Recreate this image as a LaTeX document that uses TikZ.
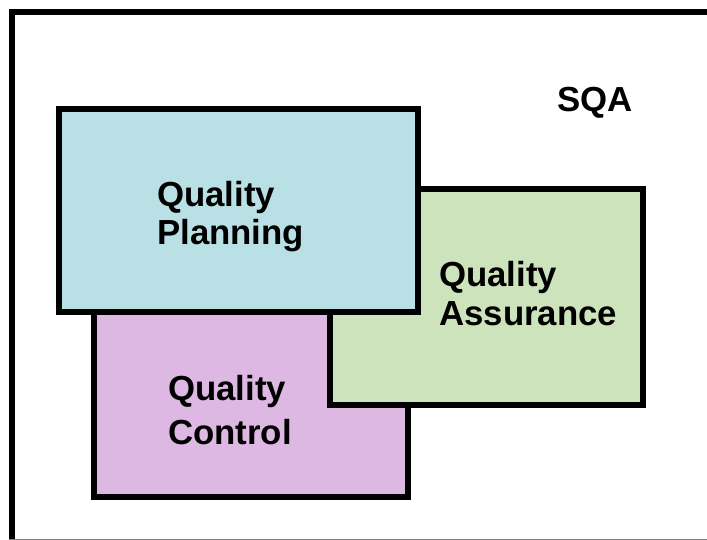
\documentclass[tikz,border=0pt]{standalone}
\usepackage{fontspec}
\setmainfont{Liberation Sans}
\begin{document}
\begin{tikzpicture}[x=1pt,y=-1pt,
  box/.style={draw=black,line width=6pt,rectangle,inner sep=0pt,outer sep=0pt},
  lbl/.style={anchor=base west,inner sep=0pt,font=\fontsize{34.8}{38}\selectfont\bfseries}]
\definecolor{qpblue}{RGB}{185,224,228}
\definecolor{qcpurple}{RGB}{220,184,227}
\definecolor{qagreen}{RGB}{205,227,188}
\useasboundingbox (0,0) rectangle (707,540);
\begin{scope}
\clip (0,0) rectangle (707,540);
\fill[white] (0,0) rectangle (707,540);
% outer frame (cropped on right and bottom)
\coordinate (fbl) at (12,560);
\coordinate (ftl) at (12,12);
\coordinate (ftr) at (720,12);
\draw[line width=6pt] (fbl) -- (ftl) -- (ftr);
\coordinate (gbl) at (9,539.5);
\coordinate (gbr) at (707,539.5);
\draw[gray,line width=1pt] (gbl) -- (gbr);
\end{scope}
% boxes
\node[box,fill=qcpurple,minimum width=314pt,minimum height=200pt] (qc) at (251,397) {};
\node[box,fill=qagreen,minimum width=313.5pt,minimum height=215.5pt] (qa) at (486.25,297.25) {};
\node[box,fill=qpblue,minimum width=359pt,minimum height=203pt] (qp) at (238.5,210.5) {};
% texts
\node[lbl] (qp1) at (157,207) {Quality};
\node[lbl] (qp2) at (157,244) {Planning};
\node[lbl] (qa1) at (439,287) {Quality};
\node[lbl] (qa2) at (439,325) {Assurance};
\node[lbl] (qc1) at (168,400) {Quality};
\node[lbl] (qc2) at (168,444) {Control};
\node[lbl] (sqa) at (557,112) {SQA};
\end{tikzpicture}
\end{document}
